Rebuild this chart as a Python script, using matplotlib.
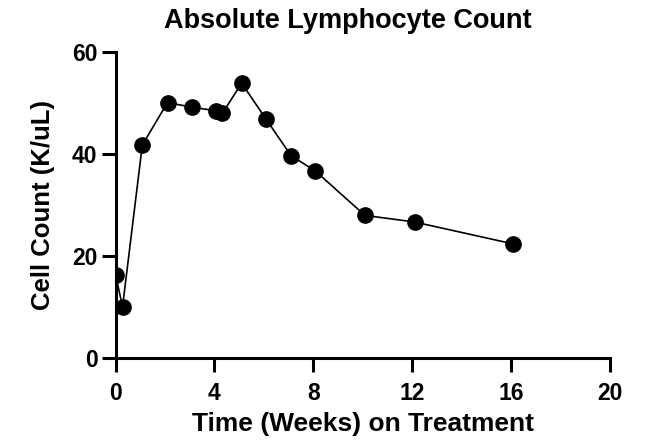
import numpy as np
from matplotlib import pyplot as plt

plt.rcParams['font.family'] = ['Liberation Sans', 'DejaVu Sans']
plt.rcParams['font.weight'] = 'bold'

# data
weeks = [0, 0.28, 1.08, 2.1, 3.08, 4.05, 4.32, 5.1, 6.08, 7.1, 8.08, 10.09, 12.1, 16.1]
cells = [16.3, 10.1, 41.8, 50.1, 49.2, 48.5, 48.0, 53.9, 46.9, 39.7, 36.7, 28.0, 26.7, 22.4]

fig = plt.figure(figsize=(6.46, 4.41), dpi=100)
ax = fig.add_axes([0.179, 0.1875, 0.765, 0.6945])

ax.plot(weeks, cells, 'k-', lw=1.2, marker='o', ms=11, mfc='black', mec='black')

ax.set_xlim(0, 20)
ax.set_ylim(0, 60)
ax.set_xticks([0, 4, 8, 12, 16, 20])
ax.set_yticks([0, 20, 40, 60])

for s in ['top', 'right']:
    ax.spines[s].set_visible(False)
for s in ['left', 'bottom']:
    ax.spines[s].set_linewidth(2.2)
ax.tick_params(width=2.2, length=10, labelsize=16.5)
ax.tick_params(axis='x', pad=7)
ax.tick_params(axis='y', pad=3)
for lab in ax.get_xticklabels() + ax.get_yticklabels():
    lab.set_fontweight('bold')

ax.set_xlabel('Time (Weeks) on Treatment', fontsize=19, fontweight='bold', labelpad=5)
ax.set_ylabel('Cell Count (K/uL)', fontsize=18.5, fontweight='bold', labelpad=12)
ax.set_title('Absolute Lymphocyte Count', fontsize=19.5, fontweight='bold',
             x=0.47, y=1.078, pad=0)

fig.savefig('out.png', dpi=100)
